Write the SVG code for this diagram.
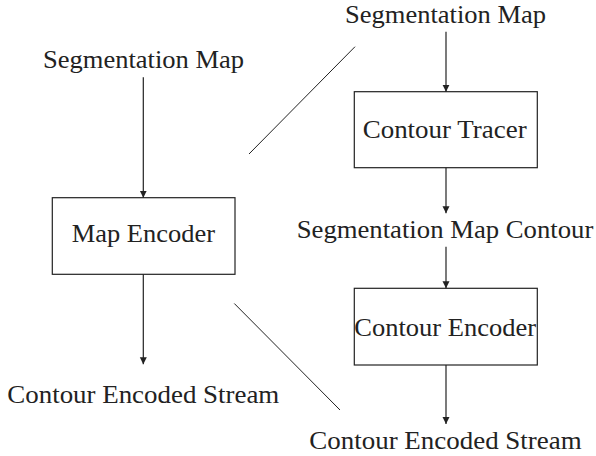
<svg xmlns="http://www.w3.org/2000/svg" width="596" height="456" viewBox="0 0 596 456">
  <defs>
    <marker id="arrow" viewBox="0 0 10 10" refX="10" refY="5" markerWidth="7" markerHeight="9" markerUnits="userSpaceOnUse" orient="auto">
      <path d="M0,0 L10,5 L0,10 Z" fill="#222"/>
    </marker>
  </defs>
  <style>
    .box { fill: #fff; stroke: #222; stroke-width: 1.2; }
    .lbl { font-family: "Liberation Serif", "Times New Roman", serif; font-size: 24.5px; fill: #222; }
    .edge { stroke: #222; stroke-width: 1.2; fill: none; marker-end: url(#arrow); }
    .sep { stroke: #222; stroke-width: 1; fill: none; }
  </style>
  <rect width="596" height="456" fill="#fff"/>

  <!-- left pipeline -->
  <g id="left-input">
    <text class="lbl" x="43" y="68" textLength="201" lengthAdjust="spacingAndGlyphs">Segmentation Map</text>
  </g>
  <g id="map-encoder">
    <rect class="box" x="52.3" y="197.7" width="182.7" height="76.6"/>
    <text class="lbl" x="71.7" y="241.7" textLength="143.3" lengthAdjust="spacingAndGlyphs">Map Encoder</text>
  </g>
  <g id="left-output">
    <text class="lbl" x="7.3" y="403" textLength="272" lengthAdjust="spacingAndGlyphs">Contour Encoded Stream</text>
  </g>

  <!-- right pipeline -->
  <g id="right-input">
    <text class="lbl" x="345" y="23" textLength="201" lengthAdjust="spacingAndGlyphs">Segmentation Map</text>
  </g>
  <g id="contour-tracer">
    <rect class="box" x="354.3" y="91.7" width="183" height="76"/>
    <text class="lbl" x="362.7" y="138.3" textLength="164" lengthAdjust="spacingAndGlyphs">Contour Tracer</text>
  </g>
  <g id="map-contour">
    <text class="lbl" x="296.7" y="238" textLength="296.6" lengthAdjust="spacingAndGlyphs">Segmentation Map Contour</text>
  </g>
  <g id="contour-encoder">
    <rect class="box" x="354.3" y="288.3" width="183" height="76.7"/>
    <text class="lbl" x="354.3" y="336" textLength="181.7" lengthAdjust="spacingAndGlyphs">Contour Encoder</text>
  </g>
  <g id="right-output">
    <text class="lbl" x="309.3" y="449.3" textLength="272.4" lengthAdjust="spacingAndGlyphs">Contour Encoded Stream</text>
  </g>

  <!-- connectors -->
  <g id="connectors">
    <line class="edge" x1="143.3" y1="77.3" x2="143.3" y2="197.7"/>
    <line class="edge" x1="143.3" y1="274.3" x2="143.3" y2="364.3"/>
    <line class="edge" x1="446" y1="31.7" x2="446" y2="91.7"/>
    <line class="edge" x1="446" y1="167.7" x2="446" y2="213.3"/>
    <line class="edge" x1="446" y1="246.7" x2="446" y2="288.3"/>
    <line class="edge" x1="446" y1="365" x2="446" y2="424"/>
    <!-- dividers between the two pipelines -->
    <line class="sep" x1="355" y1="46.7" x2="249" y2="154"/>
    <line class="sep" x1="234.3" y1="303.5" x2="340" y2="410"/>
  </g>
</svg>
